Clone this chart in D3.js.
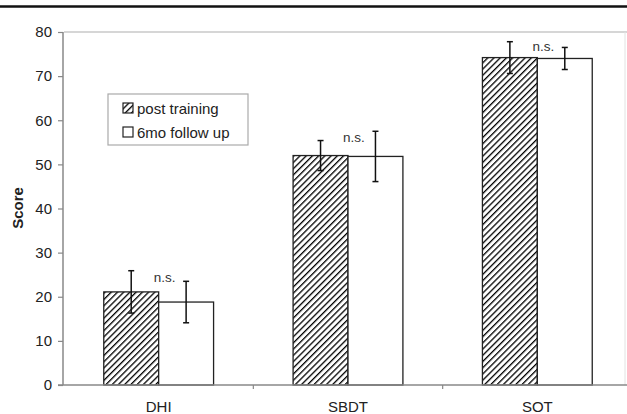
<!DOCTYPE html>
<html>
<head>
<meta charset="utf-8">
<script src="https://cdn.jsdelivr.net/npm/d3@7"></script>
<style>
  body { margin: 0; background: #fff; }
  svg { display: block; font-family: "Liberation Sans", Arial, sans-serif; }
</style>
</head>
<body>
<svg id="graph" width="627" height="414"></svg>
<script>
// data
var categorias = ["DHI", "SBDT", "SOT"];
var series = ["post training", "6mo follow up"];
var postTraining = [21.1, 52.0, 74.2];
var postErr = [4.8, 3.4, 3.6];
var followUp = [18.8, 51.8, 74.0];
var followErr = [4.7, 5.7, 2.5];
var etiquetas = ["n.s.", "n.s.", "n.s."];
var yTicks = [0, 10, 20, 30, 40, 50, 60, 70, 80];

var svg = d3.select("#graph");

// linea negra de arriba
svg.append("line")
    .attr("x1", 0).attr("x2", 627)
    .attr("y1", 6.5).attr("y2", 6.5)
    .attr("stroke", "#111").attr("stroke-width", 2.5);

// patron rayado
var defs = svg.append("defs");
var pat = defs.append("pattern")
    .attr("id", "hatch")
    .attr("patternUnits", "userSpaceOnUse")
    .attr("width", 4.4).attr("height", 4.4)
    .attr("patternTransform", "rotate(45)");
pat.append("rect").attr("width", 4.4).attr("height", 4.4).attr("fill", "#fff");
pat.append("line")
    .attr("x1", 0).attr("y1", 0).attr("x2", 0).attr("y2", 4.4)
    .attr("stroke", "#000").attr("stroke-width", 2.6);

var x = d3.scaleBand()
    .domain(categorias)
    .range([64, 632])
    .paddingInner(0.42)
    .paddingOuter(0.21);
var xs = d3.scaleBand()
    .domain(series)
    .range([0, x.bandwidth()]);
var y = d3.scaleLinear()
    .domain([0, 80])
    .range([385, 32]);

var data = categorias.map((c, i) => ({
    cat: c,
    valores: [
        { s: series[0], v: postTraining[i], e: postErr[i] },
        { s: series[1], v: followUp[i], e: followErr[i] }
    ],
    label: etiquetas[i]
}));

// borde del area (linea en 80 y lado derecho)
svg.append("line")
    .attr("x1", 64).attr("x2", 627)
    .attr("y1", y(80)).attr("y2", y(80))
    .attr("stroke", "#c8c8c8").attr("stroke-width", 1.5);
svg.append("line")
    .attr("x1", 625).attr("x2", 625)
    .attr("y1", y(80)).attr("y2", y(0))
    .attr("stroke", "#e2e2e2").attr("stroke-width", 1);

// barras
var grupos = svg.append("g").selectAll(".grupo")
    .data(data)
    .enter().append("g")
    .attr("class", "grupo")
    .attr("transform", d => "translate(" + x(d.cat) + ",0)");

grupos.selectAll("rect")
    .data(d => d.valores)
    .enter().append("rect")
    .attr("x", d => xs(d.s))
    .attr("y", d => y(d.v))
    .attr("width", xs.bandwidth())
    .attr("height", d => y(0) - y(d.v))
    .attr("fill", d => d.s == series[0] ? "url(#hatch)" : "#fff")
    .attr("stroke", "#222")
    .attr("stroke-width", 1.3);

// barras de error
var err = grupos.selectAll(".err")
    .data(d => d.valores)
    .enter().append("g")
    .attr("class", "err")
    .attr("stroke", "#111")
    .attr("stroke-width", 1.5);
err.append("line")
    .attr("x1", d => xs(d.s) + xs.bandwidth() / 2)
    .attr("x2", d => xs(d.s) + xs.bandwidth() / 2)
    .attr("y1", d => y(d.v + d.e))
    .attr("y2", d => y(d.v - d.e));
err.append("line")
    .attr("x1", d => xs(d.s) + xs.bandwidth() / 2 - 3)
    .attr("x2", d => xs(d.s) + xs.bandwidth() / 2 + 3)
    .attr("y1", d => y(d.v + d.e))
    .attr("y2", d => y(d.v + d.e));
err.append("line")
    .attr("x1", d => xs(d.s) + xs.bandwidth() / 2 - 3)
    .attr("x2", d => xs(d.s) + xs.bandwidth() / 2 + 3)
    .attr("y1", d => y(d.v - d.e))
    .attr("y2", d => y(d.v - d.e));

// n.s.
grupos.append("text")
    .attr("x", x.bandwidth() / 2 + 6)
    .attr("y", d => y(d3.mean(d.valores, v => v.v + v.e)) + 6)
    .attr("text-anchor", "middle")
    .attr("font-size", "13.5px")
    .attr("fill", "#333")
    .text(d => d.label);

// eje y
var yAxis = svg.append("g")
    .attr("transform", "translate(63,0)")
    .call(d3.axisLeft(y).tickValues(yTicks).tickSize(5).tickPadding(6));
yAxis.select(".domain").attr("stroke", "#888").attr("stroke-width", 1.5).attr("d", "M0," + y(80) + "V" + y(0));
yAxis.selectAll(".tick line").attr("stroke", "#888").attr("stroke-width", 1.2);
yAxis.selectAll("text").attr("font-size", "15px").attr("fill", "#222").attr("font-family", "Liberation Sans, Arial, sans-serif");

// eje x
svg.append("line")
    .attr("x1", 58).attr("x2", 627)
    .attr("y1", y(0)).attr("y2", y(0))
    .attr("stroke", "#888").attr("stroke-width", 1.5);
var step = x.step();
var cortes = categorias.slice(1).map(c => x(c) - x.paddingInner() * step / 2);
svg.append("g").selectAll("line")
    .data(cortes)
    .enter().append("line")
    .attr("x1", d => d).attr("x2", d => d)
    .attr("y1", y(0)).attr("y2", y(0) + 4)
    .attr("stroke", "#888").attr("stroke-width", 1.2);
svg.append("g").selectAll("text")
    .data(categorias)
    .enter().append("text")
    .attr("x", d => x(d) + x.bandwidth() / 2)
    .attr("y", 412)
    .attr("text-anchor", "middle")
    .attr("font-size", "15px")
    .attr("fill", "#222")
    .text(d => d);

// titulo eje y
svg.append("text")
    .attr("transform", "translate(23,208) rotate(-90)")
    .attr("text-anchor", "middle")
    .attr("font-size", "15px")
    .attr("font-weight", "bold")
    .attr("fill", "#222")
    .text("Score");

// leyenda
var leg = svg.append("g").attr("transform", "translate(108,94)");
leg.append("rect")
    .attr("width", 140).attr("height", 51)
    .attr("fill", "#fff")
    .attr("stroke", "#aaa").attr("stroke-width", 1.2);
var items = leg.selectAll(".item")
    .data(series)
    .enter().append("g")
    .attr("class", "item")
    .attr("transform", (d, i) => "translate(15," + (14 + i * 24) + ")");
items.append("rect")
    .attr("x", 0).attr("y", -5)
    .attr("width", 10).attr("height", 10)
    .attr("fill", (d, i) => i == 0 ? "url(#hatch)" : "#fff")
    .attr("stroke", "#222").attr("stroke-width", 1.2);
items.append("text")
    .attr("x", 14).attr("y", 5.5)
    .attr("font-size", "15px")
    .attr("fill", "#222")
    .text(d => d);
</script>
</body>
</html>
